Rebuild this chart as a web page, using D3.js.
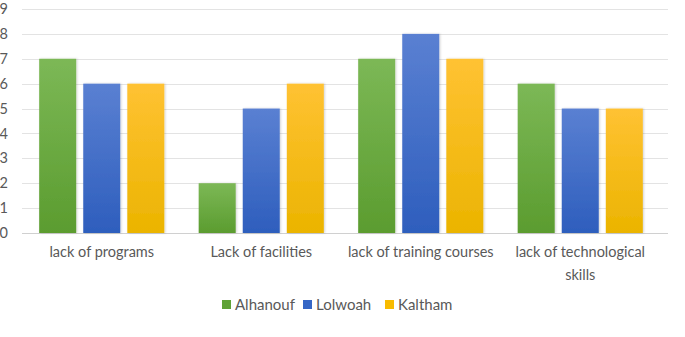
<!DOCTYPE html>
<html>
<head>
<meta charset="utf-8">
<script src="https://cdn.jsdelivr.net/npm/d3@7"></script>
<style>
  body { margin: 0; background: #fff; }
  text { font-family: Lato, "Open Sans", sans-serif; fill: #595959; }
</style>
</head>
<body>
<div id="chart"></div>
<script>
//Chart size
const c_width = 685;
const c_height = 337;

//Data
const categories = ["lack of programs", "Lack of facilities", "lack of training courses", "lack of technological skills"];
const series = ["Alhanouf", "Lolwoah", "Kaltham"];
const alhanouf = [7, 2, 7, 6];
const lolwoah = [6, 5, 8, 5];
const kaltham = [6, 6, 7, 5];
const yTicks = [0, 1, 2, 3, 4, 5, 6, 7, 8, 9];

const values = [alhanouf, lolwoah, kaltham];
const colors = [
  ["#7cb856", "#5b9c2f"],
  ["#5a80d2", "#2e5ebd"],
  ["#ffc233", "#ebb400"]
];
const legendColors = ["#5fa236", "#3566c6", "#f8bb00"];

const svg = d3.select("#chart")
  .append("svg")
  .attr("width", c_width)
  .attr("height", c_height);

//gradients for bars
const defs = svg.append("defs");
series.forEach((s, i) => {
  const g = defs.append("linearGradient")
    .attr("id", "grad" + i)
    .attr("x1", 0).attr("y1", 0).attr("x2", 0).attr("y2", 1);
  g.append("stop").attr("offset", "0%").attr("stop-color", colors[i][0]);
  g.append("stop").attr("offset", "100%").attr("stop-color", colors[i][1]);
});
const filt = defs.append("filter").attr("id", "shadow")
  .attr("x", "-20%").attr("y", "-5%").attr("width", "140%").attr("height", "110%");
filt.append("feDropShadow").attr("dx", 1).attr("dy", 0).attr("stdDeviation", 1)
  .attr("flood-color", "#000").attr("flood-opacity", 0.18);

//Scales
const x0 = d3.scaleBand()
  .domain(categories)
  .range([22, 660]);

const x1 = d3.scaleBand()
  .domain(series)
  .range([0, x0.bandwidth()])
  .paddingInner(0.16)
  .paddingOuter(0.39);

const y = d3.scaleLinear()
  .domain([0, 9])
  .range([233, 9]);

//Gridlines
svg.append("g")
  .selectAll("line")
  .data(yTicks)
  .enter()
  .append("line")
  .attr("x1", 22)
  .attr("x2", 668)
  .attr("y1", d => Math.round(y(d)) + 0.5)
  .attr("y2", d => Math.round(y(d)) + 0.5)
  .attr("stroke", d => d === 0 ? "#d0d0d0" : "#e3e3e3")
  .attr("stroke-width", 1);

//Y axis labels
const yAxis = d3.axisLeft(y).tickValues(yTicks).tickSize(0).tickPadding(0);
const yg = svg.append("g")
  .attr("transform", "translate(8,0)")
  .call(yAxis);
yg.select(".domain").remove();
yg.selectAll("text")
  .attr("font-size", 14.5)
  .style("font-family", "Lato, sans-serif")
  .attr("fill", "#595959");

//Bars
const groups = svg.append("g")
  .selectAll("g")
  .data(categories)
  .enter()
  .append("g")
  .attr("transform", d => "translate(" + x0(d) + ",0)");

groups.selectAll("rect")
  .data((d, ci) => series.map((s, si) => ({ s: s, si: si, v: values[si][ci] })))
  .enter()
  .append("rect")
  .attr("x", d => x1(d.s))
  .attr("width", x1.bandwidth())
  .attr("y", d => y(d.v))
  .attr("height", d => y(0) - y(d.v))
  .attr("fill", d => "url(#grad" + d.si + ")")
  .attr("filter", "url(#shadow)");

//Category labels
const xAxis = d3.axisBottom(x0).tickSize(0).tickPadding(0);
const xg = svg.append("g")
  .attr("transform", "translate(0,247)")
  .call(xAxis);
xg.select(".domain").remove();
xg.selectAll("text")
  .attr("font-size", 14.5)
  .style("font-family", "Lato, sans-serif")
  .attr("fill", "#595959")
  .each(function(d) {
    const t = d3.select(this);
    if (d === "lack of technological skills") {
      t.text(null);
      t.append("tspan").attr("x", 0).attr("dy", "0.71em").text("lack of technological");
      t.append("tspan").attr("x", 0).attr("dy", "1.6em").text("skills");
      t.attr("dy", null);
    }
  });

//Legend
const legendX = [222, 303, 385];
const legend = svg.append("g")
  .selectAll("g")
  .data(series)
  .enter()
  .append("g")
  .attr("transform", (d, i) => "translate(" + legendX[i] + ",300)");

legend.append("rect")
  .attr("width", 9)
  .attr("height", 9)
  .attr("fill", (d, i) => legendColors[i]);

legend.append("text")
  .attr("x", 13)
  .attr("y", 10)
  .attr("font-size", 15)
  .text(d => d);
</script>
</body>
</html>
